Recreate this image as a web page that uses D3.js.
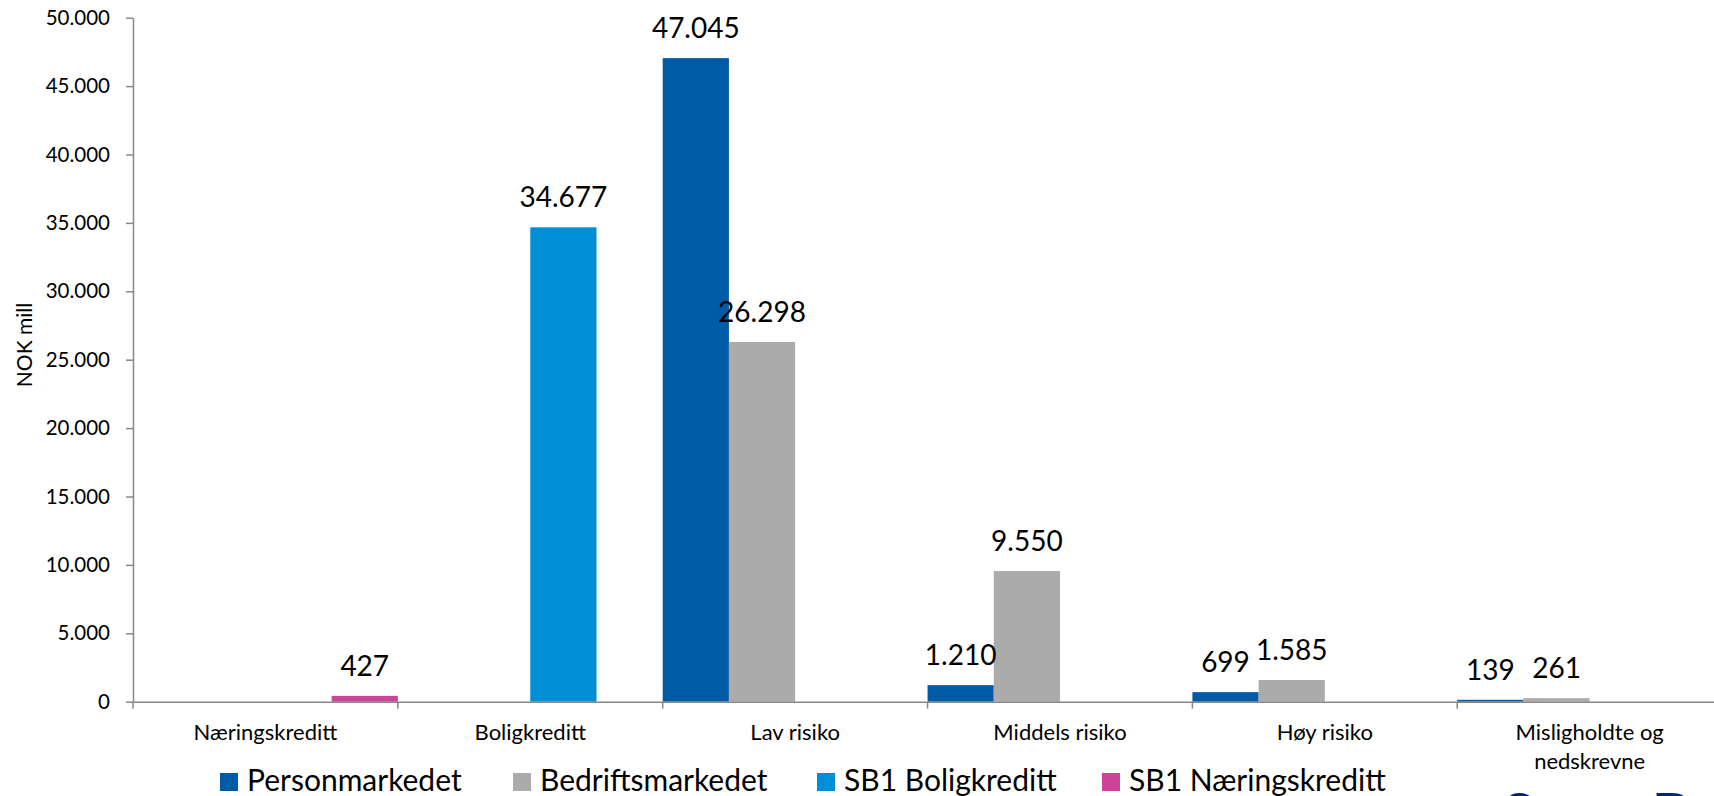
<!DOCTYPE html>
<html>
<head>
<meta charset="utf-8">
<script src="https://cdn.jsdelivr.net/npm/d3@7"></script>
<style>
  html, body { margin: 0; padding: 0; background: #ffffff; overflow: hidden; }
  svg { display: block; font-family: Lato, "Noto Sans", sans-serif; }
</style>
</head>
<body>
<svg id="chart" width="1714" height="796"></svg>
<script>
// ---- data ----
const categories = ["Næringskreditt", "Boligkreditt", "Lav risiko", "Middels risiko", "Høy risiko", "Misligholdte og\nnedskrevne"];
const seriesNames = ["Personmarkedet", "Bedriftsmarkedet", "SB1 Boligkreditt", "SB1 Næringskreditt"];
const personmarkedet   = [null, null, 47045, 1210, 699, 139];
const bedriftsmarkedet = [null, null, 26298, 9550, 1585, 261];
const sb1Boligkreditt  = [null, 34677, null, null, null, null];
const sb1Naeringskreditt = [427, null, null, null, null, null];
const yTicks = [0, 5000, 10000, 15000, 20000, 25000, 30000, 35000, 40000, 45000, 50000];
const yTitle = "NOK mill";
const seriesColors = ["#005BA6", "#ABABAB", "#008FD5", "#CC4499"];

const seriesValues = [personmarkedet, bedriftsmarkedet, sb1Boligkreditt, sb1Naeringskreditt];

// ---- layout ----
const plotLeft = 133, bandW = 264.85, plotTop = 17.7, plotBottom = 701.7;
const svg = d3.select("#chart");

const nf = d3.formatLocale({decimal: ",", thousands: ".", grouping: [3], currency: ["", ""]}).format(",");

const x = d3.scaleBand().domain(categories).range([plotLeft, plotLeft + bandW * categories.length]).paddingInner(0).paddingOuter(0);
const xs = d3.scaleBand().domain(seriesNames).range([0, x.bandwidth()]).padding(0);
const y = d3.scaleLinear().domain([0, 50000]).range([plotBottom, plotTop]);

const axisColor = "#888888";

// bars
const rows = [];
categories.forEach((c, ci) => {
  seriesNames.forEach((s, si) => {
    const v = seriesValues[si][ci];
    if (v !== null && v !== undefined) rows.push({c, s, v, color: seriesColors[si]});
  });
});

svg.append("g").selectAll("rect").data(rows).join("rect")
  .attr("x", d => x(d.c) + xs(d.s))
  .attr("width", xs.bandwidth())
  .attr("y", d => y(d.v))
  .attr("height", d => y(0) - y(d.v))
  .attr("fill", d => d.color);

// y axis
const yAxis = d3.axisLeft(y).tickValues(yTicks).tickSize(7).tickSizeOuter(0).tickPadding(16)
  .tickFormat(d => nf(d));
const gy = svg.append("g").attr("transform", `translate(${plotLeft},0)`).call(yAxis);
gy.select(".domain").attr("stroke", axisColor).attr("stroke-width", 1.5);
gy.selectAll(".tick line").attr("stroke", axisColor).attr("stroke-width", 1.5);
gy.selectAll(".tick text").attr("font-size", 20.5).attr("fill", "#000").attr("font-family", "Lato");

// x axis
const xAxis = d3.axisBottom(x).tickSize(0).tickSizeOuter(0).tickPadding(0).tickFormat("");
const gx = svg.append("g").attr("transform", `translate(0,${plotBottom})`).call(xAxis);
gx.select(".domain").attr("stroke", axisColor).attr("stroke-width", 1.5);
// boundary ticks
gx.selectAll("line.bt").data(categories).join("line").attr("class", "bt")
  .attr("x1", d => x(d)).attr("x2", d => x(d)).attr("y1", 0).attr("y2", 7)
  .attr("stroke", axisColor).attr("stroke-width", 1.5);
// category labels
gx.selectAll(".tick").each(function(d) {
  const t = d3.select(this).append("text")
    .attr("fill", "#000").attr("font-size", 22).attr("text-anchor", "middle")
    .attr("font-family", "Lato");
  d.split("\n").forEach((line, i) => {
    t.append("tspan").attr("x", 0).attr("y", 38 + i * 29).text(line);
  });
});

// value labels
svg.append("g").selectAll("text").data(rows).join("text")
  .attr("x", d => x(d.c) + xs(d.s) + xs.bandwidth() / 2)
  .attr("y", d => y(d.v) - 20)
  .attr("text-anchor", "middle")
  .attr("font-size", 28)
  .attr("fill", "#000")
  .text(d => nf(d.v));

// y title
svg.append("text")
  .attr("transform", `translate(32,${345}) rotate(-90)`)
  .attr("text-anchor", "middle")
  .attr("font-size", 21)
  .attr("fill", "#000")
  .text(yTitle);

// legend
const legendX = [220, 513, 817, 1102];
const lg = svg.append("g").selectAll("g").data(seriesNames).join("g")
  .attr("transform", (d, i) => `translate(${legendX[i]},773)`);
lg.append("rect").attr("width", 18).attr("height", 18).attr("fill", (d, i) => seriesColors[i]);
lg.append("text").attr("x", 27).attr("y", 18).attr("font-size", 30).attr("fill", "#000").text(d => d);

// logo (cut off at the bottom edge, as in the reference)
svg.append("text")
  .attr("x", 1502).attr("y", 836)
  .attr("font-size", 60).attr("font-weight", "bold")
  .attr("fill", "#002776")
  .text("SpareBank 1");
</script>
</body>
</html>
